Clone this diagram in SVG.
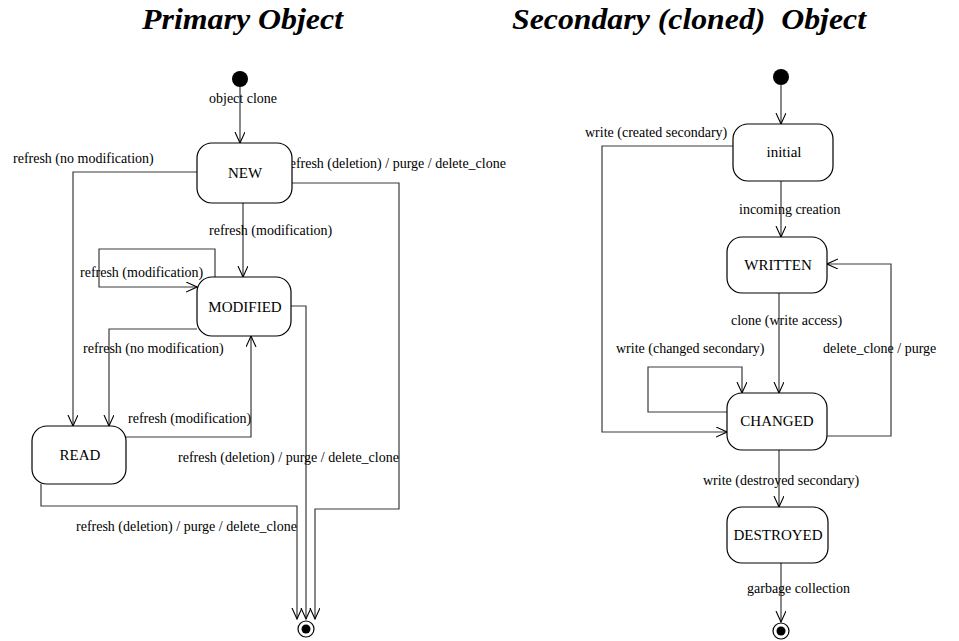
<svg xmlns="http://www.w3.org/2000/svg" width="959" height="641" viewBox="0 0 959 641">
<style>
.st{fill:#fff;stroke:#000;stroke-width:1.2}
.c{fill:none;stroke:#3a3a3a;stroke-width:1.2}
text{font-family:"Liberation Serif","Times New Roman",serif;fill:#000}
.l{font-size:14px}
.n{font-size:15px;text-anchor:middle}
.t{font-size:30px;font-weight:bold;font-style:italic;white-space:pre}
</style>
<defs>
<marker id="a" markerWidth="12" markerHeight="12" refX="11" refY="5" orient="auto" markerUnits="userSpaceOnUse">
<path d="M0,0 L11,5 L0,10" fill="none" stroke="#000" stroke-width="1.1"/>
</marker>
</defs>
<g id="titles">
<text class="t" x="142" y="29" textLength="201" lengthAdjust="spacingAndGlyphs">Primary Object</text>
<text class="t" x="512" y="29" textLength="354" lengthAdjust="spacingAndGlyphs" xml:space="preserve">Secondary (cloned)  Object</text>
</g>
<g id="connectors">
<path class="c" d="M240,87 V143" marker-end="url(#a)"/>
<path class="c" d="M197,172 H73 V426" marker-end="url(#a)"/>
<path class="c" d="M243,203 V277" marker-end="url(#a)"/>
<path class="c" d="M291,183 H399 V509 H315 V619" marker-end="url(#a)"/>
<path class="c" d="M215,277 V249 H99 V287 H197" marker-end="url(#a)"/>
<path class="c" d="M197,329 H109 V426" marker-end="url(#a)"/>
<path class="c" d="M126,437 H251 V336" marker-end="url(#a)"/>
<path class="c" d="M291,306 H306 V619" marker-end="url(#a)"/>
<path class="c" d="M41,484 V506 H297 V619" marker-end="url(#a)"/>
<path class="c" d="M781,85 V124" marker-end="url(#a)"/>
<path class="c" d="M733,146 H602 V432 H727" marker-end="url(#a)"/>
<path class="c" d="M781,181 V237" marker-end="url(#a)"/>
<path class="c" d="M779,293 V393" marker-end="url(#a)"/>
<path class="c" d="M727,412 H648 V367 H742 V393" marker-end="url(#a)"/>
<path class="c" d="M827,436 H891 V264 H827" marker-end="url(#a)"/>
<path class="c" d="M779,450 V507" marker-end="url(#a)"/>
<path class="c" d="M781,563 V622" marker-end="url(#a)"/>
</g>
<g id="labels">
<text class="l" x="209" y="103">object clone</text>
<text class="l" x="13" y="163">refresh (no modification)</text>
<text class="l" x="285" y="168">refresh (deletion) / purge / delete_clone</text>
<text class="l" x="209" y="235">refresh (modification)</text>
<text class="l" x="80" y="277">refresh (modification)</text>
<text class="l" x="83" y="353">refresh (no modification)</text>
<text class="l" x="128" y="423">refresh (modification)</text>
<text class="l" x="178" y="462">refresh (deletion) / purge / delete_clone</text>
<text class="l" x="76" y="531">refresh (deletion) / purge / delete_clone</text>
<text class="l" x="585" y="137">write (created secondary)</text>
<text class="l" x="739" y="214">incoming creation</text>
<text class="l" x="731" y="325">clone (write access)</text>
<text class="l" x="616" y="353">write (changed secondary)</text>
<text class="l" x="823" y="353">delete_clone / purge</text>
<text class="l" x="703" y="485">write (destroyed secondary)</text>
<text class="l" x="747" y="593">garbage collection</text>
</g>
<g id="init1"><circle cx="240" cy="79" r="8" fill="#000"/></g>
<g id="NEW"><rect class="st" x="197" y="143" width="95" height="60" rx="15"/><text class="n" x="245" y="178">NEW</text></g>
<g id="MODIFIED"><rect class="st" x="197" y="277" width="94" height="59" rx="15"/><text class="n" x="245" y="312">MODIFIED</text></g>
<g id="READ"><rect class="st" x="32" y="426" width="94" height="58" rx="15"/><text class="n" x="80" y="460">READ</text></g>
<g id="final1"><circle cx="306" cy="629" r="8" fill="#fff" stroke="#000" stroke-width="1.2"/><circle cx="306" cy="629" r="4.5" fill="#000"/></g>
<g id="init2"><circle cx="781" cy="77" r="8" fill="#000"/></g>
<g id="initial"><rect class="st" x="733" y="124" width="100" height="57" rx="15"/><text class="n" x="784" y="157">initial</text></g>
<g id="WRITTEN"><rect class="st" x="727" y="237" width="100" height="56" rx="15"/><text class="n" x="778" y="270">WRITTEN</text></g>
<g id="CHANGED"><rect class="st" x="727" y="393" width="100" height="57" rx="15"/><text class="n" x="777" y="426">CHANGED</text></g>
<g id="DESTROYED"><rect class="st" x="727" y="507" width="101" height="56" rx="15"/><text class="n" x="778" y="540">DESTROYED</text></g>
<g id="final2"><circle cx="781" cy="631" r="8" fill="#fff" stroke="#000" stroke-width="1.2"/><circle cx="781" cy="631" r="4.5" fill="#000"/></g>
</svg>
